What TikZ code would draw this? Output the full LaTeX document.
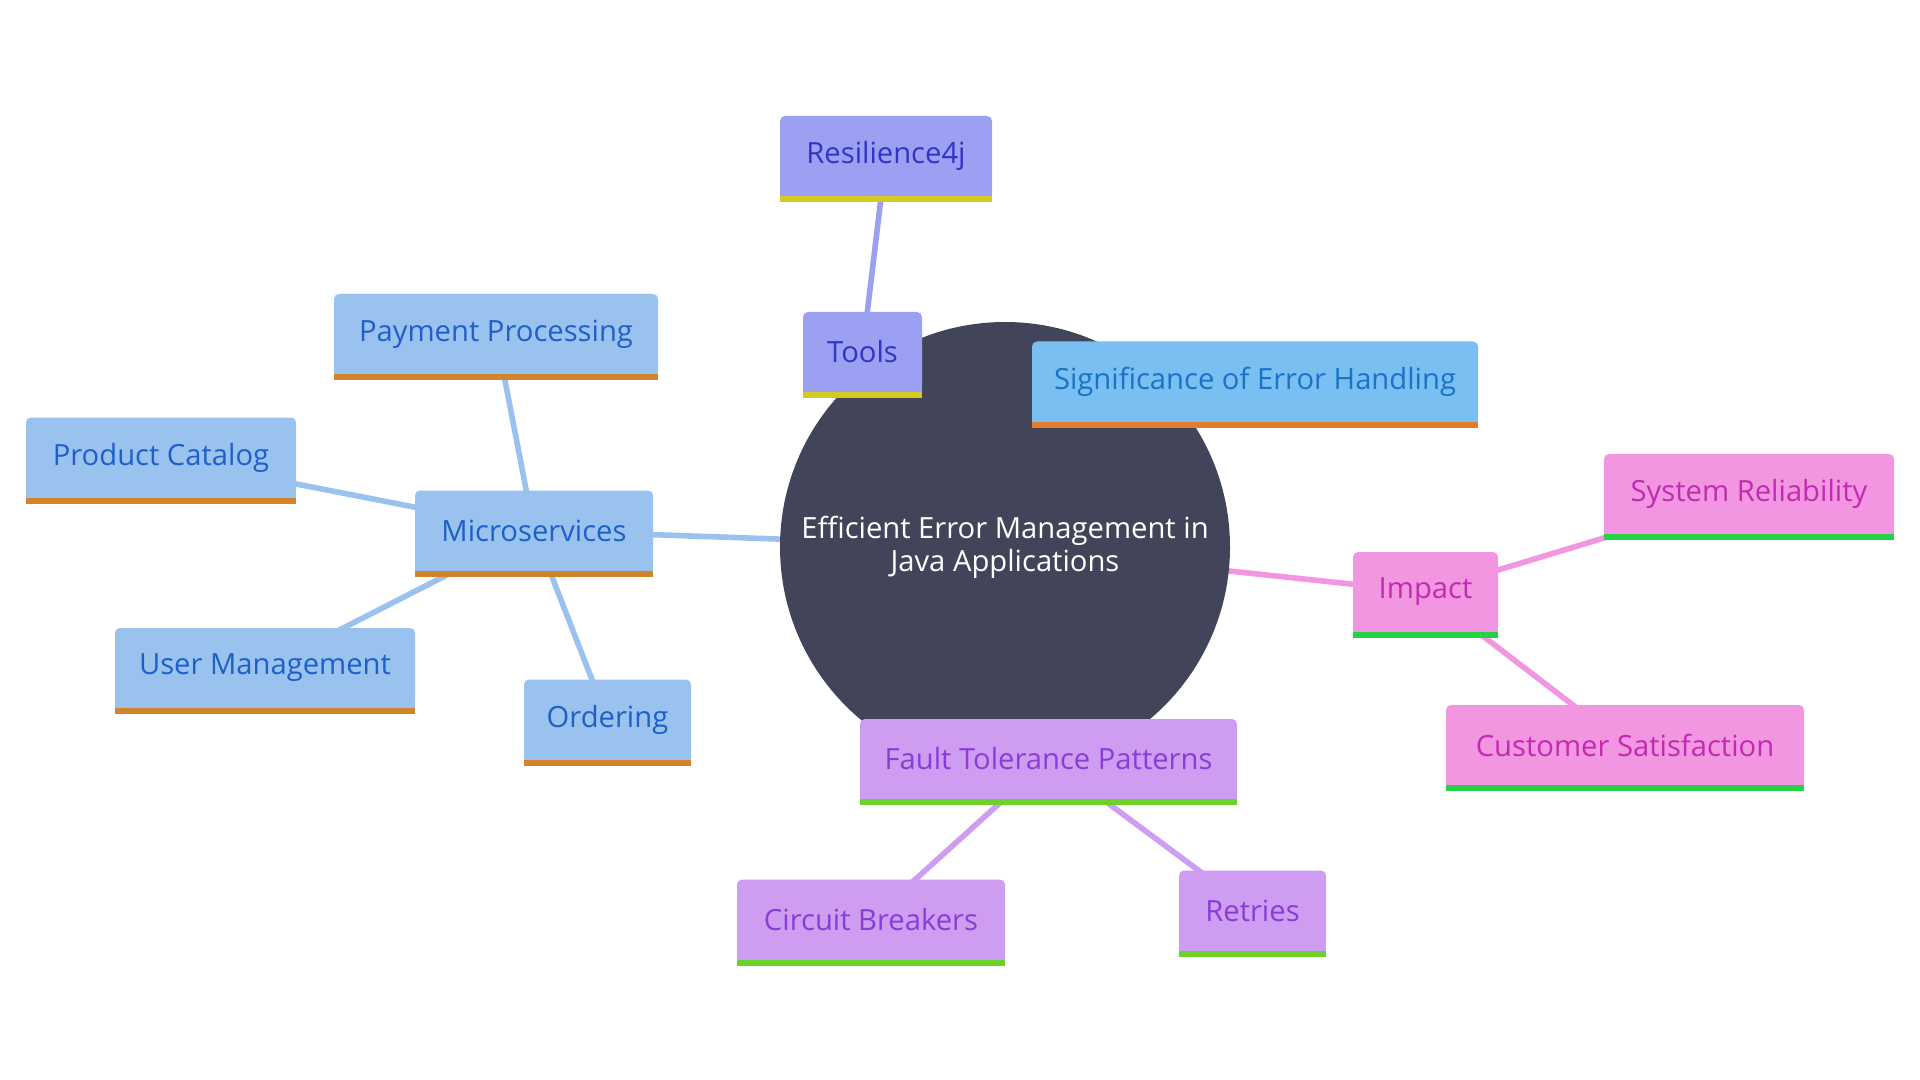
\documentclass[tikz,border=0pt]{standalone}
\usepackage{fontspec}
\setmainfont{Open Sans}
\usetikzlibrary{backgrounds}
\definecolor{darkc}{HTML}{424559}
\definecolor{bluefill}{HTML}{9AC2EE}
\definecolor{bluetext}{HTML}{1F5FC8}
\definecolor{bluebar}{HTML}{D3842A}
\definecolor{perifill}{HTML}{9BA0F2}
\definecolor{peritext}{HTML}{3333C4}
\definecolor{peribar}{HTML}{D6CA22}
\definecolor{skyfill}{HTML}{7ABFF2}
\definecolor{skytext}{HTML}{1A73C6}
\definecolor{skybar}{HTML}{E07E2E}
\definecolor{pinkfill}{HTML}{F296E2}
\definecolor{pinktext}{HTML}{C12BAF}
\definecolor{pinkbar}{HTML}{24D246}
\definecolor{lilacfill}{HTML}{CE9CF0}
\definecolor{lilactext}{HTML}{8A3DD6}
\definecolor{lilacbar}{HTML}{6CD22A}
\newcommand{\mmnode}[6]{%
  \node[mmbox, fill=#5fill, text=#5text, minimum width=#4*0.5pt] (#1) at (#2,#3) {#6};
  \fill[#5fill] ([yshift=4pt]#1.south west) rectangle (#1.south east);
  \fill[#5bar] (#1.south west) rectangle ([yshift=-3pt]#1.south east);
}
\begin{document}
\begin{tikzpicture}[x=0.5pt,y=-0.5pt,
  mmbox/.style={rectangle, rounded corners=2.5pt, minimum height=40pt, inner sep=0pt,
    font=\fontsize{14.6}{18}\selectfont},
  link/.style={line width=2.8pt}]
\useasboundingbox (0,0) rectangle (1920,1080);

\node[circle, fill=darkc, text=white, minimum size=225pt, inner sep=0pt, align=center,
  font=\fontsize{14.6}{16.5}\selectfont] (center) at (1005,547)
  {Efficient Error Management in\\Java Applications};

\mmnode{res}{886}{156}{212}{peri}{Resilience4j}
\mmnode{tools}{862.5}{352}{119}{peri}{Tools}
\mmnode{sig}{1255}{381.5}{446}{sky}{Significance of Error Handling}
\mmnode{pay}{496}{334}{324}{blue}{Payment Processing}
\mmnode{prod}{161}{457.5}{270}{blue}{Product Catalog}
\mmnode{micro}{534}{530.5}{238}{blue}{Microservices}
\mmnode{user}{265}{668}{300}{blue}{User Management}
\mmnode{order}{607.5}{719.5}{167}{blue}{Ordering}
\mmnode{impact}{1425.5}{592}{145}{pink}{Impact}
\mmnode{sysrel}{1749}{494}{290}{pink}{System Reliability}
\mmnode{cust}{1625}{745}{358}{pink}{Customer Satisfaction}
\mmnode{fault}{1048.5}{759}{377}{lilac}{Fault Tolerance Patterns}
\mmnode{circuit}{871}{919.5}{268}{lilac}{Circuit Breakers}
\mmnode{retries}{1252.5}{910.5}{147}{lilac}{Retries}

\begin{scope}[on background layer]
  \fill[white] (0,0) rectangle (1920,1080);
  \draw[link, bluefill] (center.center) -- (micro.center);
  \draw[link, perifill] (center.center) -- (tools.center);
  \draw[link, skyfill] (center.center) -- (sig.center);
  \draw[link, pinkfill] (center.center) -- (impact.center);
  \draw[link, lilacfill] (center.center) -- (fault.center);
  \draw[link, perifill] (tools.center) -- (res.center);
  \draw[link, bluefill] (micro.center) -- (pay.center);
  \draw[link, bluefill] (micro.center) -- (prod.center);
  \draw[link, bluefill] (micro.center) -- (user.center);
  \draw[link, bluefill] (micro.center) -- (order.center);
  \draw[link, pinkfill] (impact.center) -- (sysrel.center);
  \draw[link, pinkfill] (impact.center) -- (cust.center);
  \draw[link, lilacfill] (fault.center) -- (circuit.center);
  \draw[link, lilacfill] (fault.center) -- (retries.center);
\end{scope}
\end{tikzpicture}
\end{document}
